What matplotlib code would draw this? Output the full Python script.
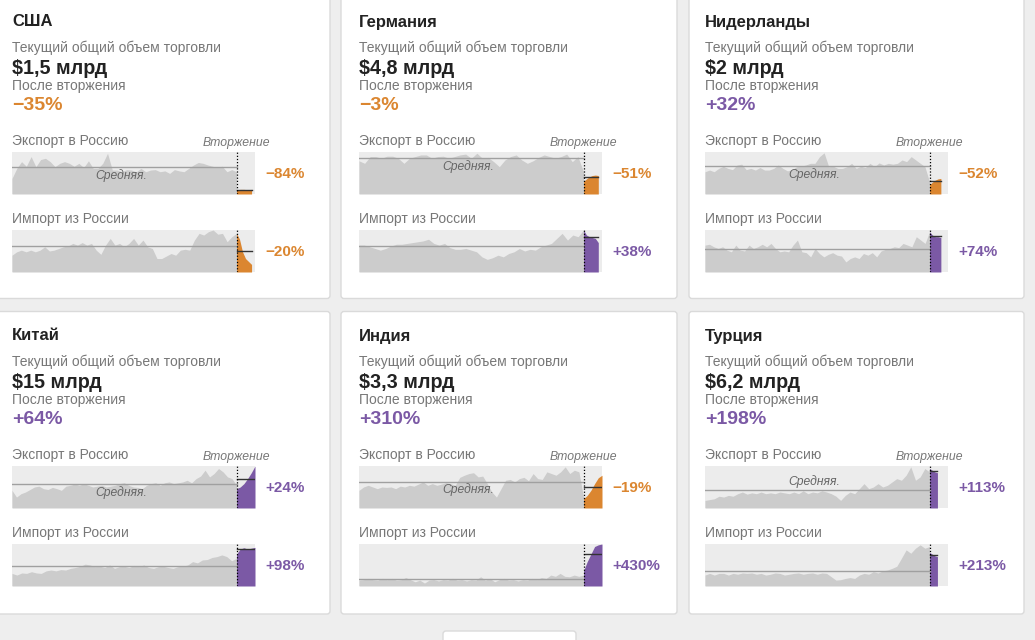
import numpy as np
import matplotlib
matplotlib.use("Agg")
import matplotlib.pyplot as plt
from matplotlib.patches import FancyBboxPatch

plt.rcParams['font.family'] = ['Liberation Sans', 'DejaVu Sans']

W, H = 1035, 640
INV = 85      # вторжение, месяцев от начала ряда
X_END = 92

countries = ["США", "Германия", "Нидерланды", "Китай", "Индия", "Турция"]
trade_now = ["$1,5 млрд", "$4,8 млрд", "$2 млрд", "$15 млрд", "$3,3 млрд", "$6,2 млрд"]
trade_change = ["−35%", "−3%", "+32%", "+64%", "+310%", "+198%"]
export_change = ["−84%", "−51%", "−52%", "+24%", "−19%", "+113%"]
import_change = ["−20%", "+38%", "+74%", "+98%", "+430%", "+213%"]
last_month = [90.7, 90.6, 89.3, 92, 92, 88.0]

# экспорт в Россию (условные единицы, 100 = верх графика)
usa_exp = [37, 61, 77, 66, 89, 65, 82, 85, 77, 65, 73, 77, 73, 66, 73, 63, 79, 61, 61, 73,
           97, 57, 57, 53, 58, 57, 53, 61, 53, 57, 58, 53, 55, 49, 58, 55, 53, 61, 69, 75,
           73, 69, 66, 63, 66, 53, 58, 53]
usa_exp_post = [10, 11, 11, 10, 11]
ger_exp = [79, 73, 89, 89, 85, 90, 90, 85, 73, 85, 89, 93, 93, 85, 89, 90, 85, 89, 93, 95,
           85, 97, 85, 87, 77, 65, 81, 89, 93, 81, 73, 79, 87, 93, 89, 85, 89, 95, 77, 89, 53]
ger_exp_post = [30, 36, 41, 44, 45, 44]
nld_exp = [53, 57, 53, 61, 66, 61, 58, 69, 71, 58, 61, 57, 63, 57, 57, 61, 69, 61, 55, 58,
           65, 66, 69, 73, 73, 89, 98, 65, 66, 61, 61, 65, 73, 61, 66, 63, 73, 65, 74, 69,
           73, 71, 73, 81, 77, 89, 81, 73, 65, 29]
nld_exp_post = [22, 28, 33, 36, 37]
chn_exp = [42, 26, 34, 38, 44, 50, 52, 46, 44, 49, 46, 42, 52, 54, 57, 54, 58, 54, 50, 52,
           54, 50, 52, 54, 58, 60, 54, 50, 49, 46, 54, 58, 60, 54, 60, 62, 58, 60, 62, 66,
           60, 70, 76, 90, 74, 82, 94, 86, 74, 70, 54]
chn_exp_post = [46, 50, 58, 70, 84, 100]
ind_exp = [42, 50, 54, 50, 46, 50, 49, 50, 46, 52, 50, 54, 52, 57, 62, 54, 58, 54, 57, 60,
           58, 54, 73, 78, 82, 84, 74, 76, 58, 38, 26, 46, 66, 68, 62, 70, 73, 65, 82, 70,
           68, 86, 82, 78, 86, 98, 82, 90, 86, 26]
ind_exp_post = [22, 30, 42, 58, 72, 78]
tur_exp = [18, 20, 22, 28, 26, 30, 28, 34, 38, 33, 36, 34, 38, 34, 36, 34, 38, 36, 34, 38,
           34, 41, 34, 38, 36, 41, 38, 34, 28, 18, 30, 38, 34, 46, 58, 46, 50, 58, 50, 54,
           62, 70, 66, 78, 98, 66, 74, 94, 86]
tur_exp_post = [94, 90, 86, 84]

# импорт из России
usa_imp = [40, 48, 52, 48, 52, 48, 52, 60, 50, 52, 56, 60, 62, 68, 64, 70, 64, 68, 52, 42,
           64, 80, 64, 68, 60, 68, 80, 64, 76, 60, 56, 32, 32, 38, 44, 40, 52, 54, 52, 76,
           92, 88, 96, 100, 90, 92, 72, 84, 92]
usa_imp_post = [92, 78, 48, 32, 25, 18]
ger_imp = [64, 64, 60, 56, 52, 56, 62, 66, 66, 68, 70, 72, 74, 78, 68, 64, 68, 58, 54, 54,
           56, 52, 48, 36, 30, 34, 40, 36, 44, 48, 56, 50, 54, 52, 60, 64, 68, 80, 92, 76,
           88, 84, 100]
ger_imp_post = [100, 88, 84, 82, 80, 70]
nld_imp = [64, 66, 60, 56, 60, 52, 48, 64, 52, 50, 64, 56, 60, 66, 60, 68, 56, 48, 50, 48,
           64, 76, 48, 46, 36, 56, 44, 36, 42, 46, 40, 38, 24, 32, 36, 32, 44, 40, 46, 36,
           50, 54, 56, 60, 58, 68, 64, 60, 84, 76, 68, 96]
nld_imp_post = [96, 88, 84, 84, 82]
chn_imp = [30, 26, 31, 30, 34, 31, 30, 36, 38, 36, 39, 38, 42, 44, 47, 52, 50, 46, 47, 44,
           50, 42, 46, 47, 44, 49, 46, 50, 44, 42, 46, 47, 44, 42, 46, 47, 50, 58, 55, 62,
           63, 68, 70, 74, 70, 60, 66]
chn_imp_post = [76, 88, 91, 88, 90, 92]
ind_imp = [14, 15, 18, 15, 14, 18, 15, 18, 14, 15, 20, 15, 10, 14, 7, 14, 15, 12, 15, 14,
           18, 14, 15, 12, 15, 14, 22, 14, 18, 10, 15, 18, 14, 15, 12, 15, 14, 18, 15, 20,
           18, 26, 23, 30, 23, 22, 26, 23, 26]
ind_imp_post = [36, 58, 76, 94, 98, 100]
tur_imp = [26, 30, 26, 30, 30, 26, 30, 28, 31, 30, 31, 28, 30, 26, 28, 31, 30, 26, 28, 30,
           31, 28, 30, 31, 28, 31, 30, 22, 14, 15, 18, 20, 18, 26, 30, 28, 34, 31, 36, 38,
           42, 47, 66, 86, 78, 90, 98, 90, 94]
tur_imp_post = [80, 76, 72, 70]

exports = [(usa_exp, usa_exp_post), (ger_exp, ger_exp_post), (nld_exp, nld_exp_post),
           (chn_exp, chn_exp_post), (ind_exp, ind_exp_post), (tur_exp, tur_exp_post)]
imports = [(usa_imp, usa_imp_post), (ger_imp, ger_imp_post), (nld_imp, nld_imp_post),
           (chn_imp, chn_imp_post), (ind_imp, ind_imp_post), (tur_imp, tur_imp_post)]
avg_label_above = [False, False, False, False, False, True]

ORANGE = '#db8630'
PURPLE = '#7b59a5'
GREY_TXT = '#777777'
DARK = '#222222'


def col(s):
    return ORANGE if s.startswith('−') else PURPLE


fig = plt.figure(figsize=(W / 100, H / 100), dpi=100)
fig.patch.set_facecolor('#eeeeee')
bg = fig.add_axes([0, 0, 1, 1])
bg.set_xlim(0, W)
bg.set_ylim(H, 0)
bg.axis('off')

card_x = [(-10, 330), (341, 677), (689, 1024)]
card_y = [(-10, 298.5), (311.5, 614)]
text_x = [12, 359, 705]
row_dy = [0, 314]

for (y0, y1) in card_y:
    for (x0, x1) in card_x:
        bg.add_patch(FancyBboxPatch((x0, y0), x1 - x0, y1 - y0,
                                    boxstyle="round,pad=0,rounding_size=3",
                                    fc='white', ec='#dadada', lw=1))
bg.add_patch(FancyBboxPatch((443, 631), 133, 20, boxstyle="round,pad=0,rounding_size=3",
                            fc='white', ec='#dadada', lw=1))


def spark(ax, pre, post, end, color, avg_text=None, above=False):
    ax.set_facecolor('#ececec')
    for s in ax.spines.values():
        s.set_visible(False)
    ax.set_xticks([])
    ax.set_yticks([])
    x_pre = np.linspace(0, INV, len(pre))
    x_post = np.linspace(INV, end, len(post))
    ax.fill_between(x_pre, pre, color='#cccccc', lw=0)
    ax.fill_between(x_post, post, color=color, lw=0)
    m_pre = np.mean(pre)
    m_post = np.mean(post)
    ax.plot([0, INV], [m_pre, m_pre], color='#a0a0a0', lw=1)
    ax.plot([INV, end], [m_post, m_post], color='#333333', lw=1)
    ax.axvline(INV, color='black', lw=0.9, ls=(0, (1, 1.5)), zorder=5)
    ax.set_xlim(0, X_END)
    ax.set_ylim(0, 100)
    if avg_text:
        ax.annotate(avg_text, xy=(0.45, m_pre), xycoords=('axes fraction', 'data'),
                    xytext=(0, 6 if above else -6), textcoords='offset points',
                    ha='center', va='center', fontsize=8.7, style='italic', color='#666666')


for i, name in enumerate(countries):
    r, c = divmod(i, 3)
    tx = text_x[c]
    dy = row_dy[r]
    bg.text(tx, 22 + dy, name, fontsize=12, fontweight='bold', color=DARK, va='center')
    bg.text(tx, 47.5 + dy, "Текущий общий объем торговли", fontsize=10, color=GREY_TXT, va='center')
    bg.text(tx, 69 + dy, trade_now[i], fontsize=14.2, fontweight='bold', color=DARK, va='center')
    bg.text(tx, 86 + dy, "После вторжения", fontsize=10, color=GREY_TXT, va='center')
    bg.text(tx, 106 + dy, trade_change[i], fontsize=14, fontweight='bold',
            color=col(trade_change[i]), va='center')

    box_w = 243
    # экспорт
    bg.text(tx, 141.5 + dy, "Экспорт в Россию", fontsize=10, color=GREY_TXT, va='center')
    bg.text(tx + box_w * INV / X_END, 143 + dy, "Вторжение", fontsize=8.8, style='italic',
            color=GREY_TXT, ha='center', va='center')
    ax = fig.add_axes([tx / W, 1 - (194 + dy) / H, box_w / W, 42 / H])
    pre, post = exports[i]
    spark(ax, pre, post, last_month[i], col(export_change[i]), "Средняя.", avg_label_above[i])
    bg.text(tx + box_w + 10, 173.5 + dy, export_change[i], fontsize=11, fontweight='bold',
            color=col(export_change[i]), va='center')

    # импорт
    bg.text(tx, 219.5 + dy, "Импорт из России", fontsize=10, color=GREY_TXT, va='center')
    ax = fig.add_axes([tx / W, 1 - (272 + dy) / H, box_w / W, 42 / H])
    pre, post = imports[i]
    spark(ax, pre, post, last_month[i], col(import_change[i]))
    bg.text(tx + box_w + 10, 251.5 + dy, import_change[i], fontsize=11, fontweight='bold',
            color=col(import_change[i]), va='center')

fig.savefig("out.png", dpi=100, facecolor=fig.get_facecolor())
